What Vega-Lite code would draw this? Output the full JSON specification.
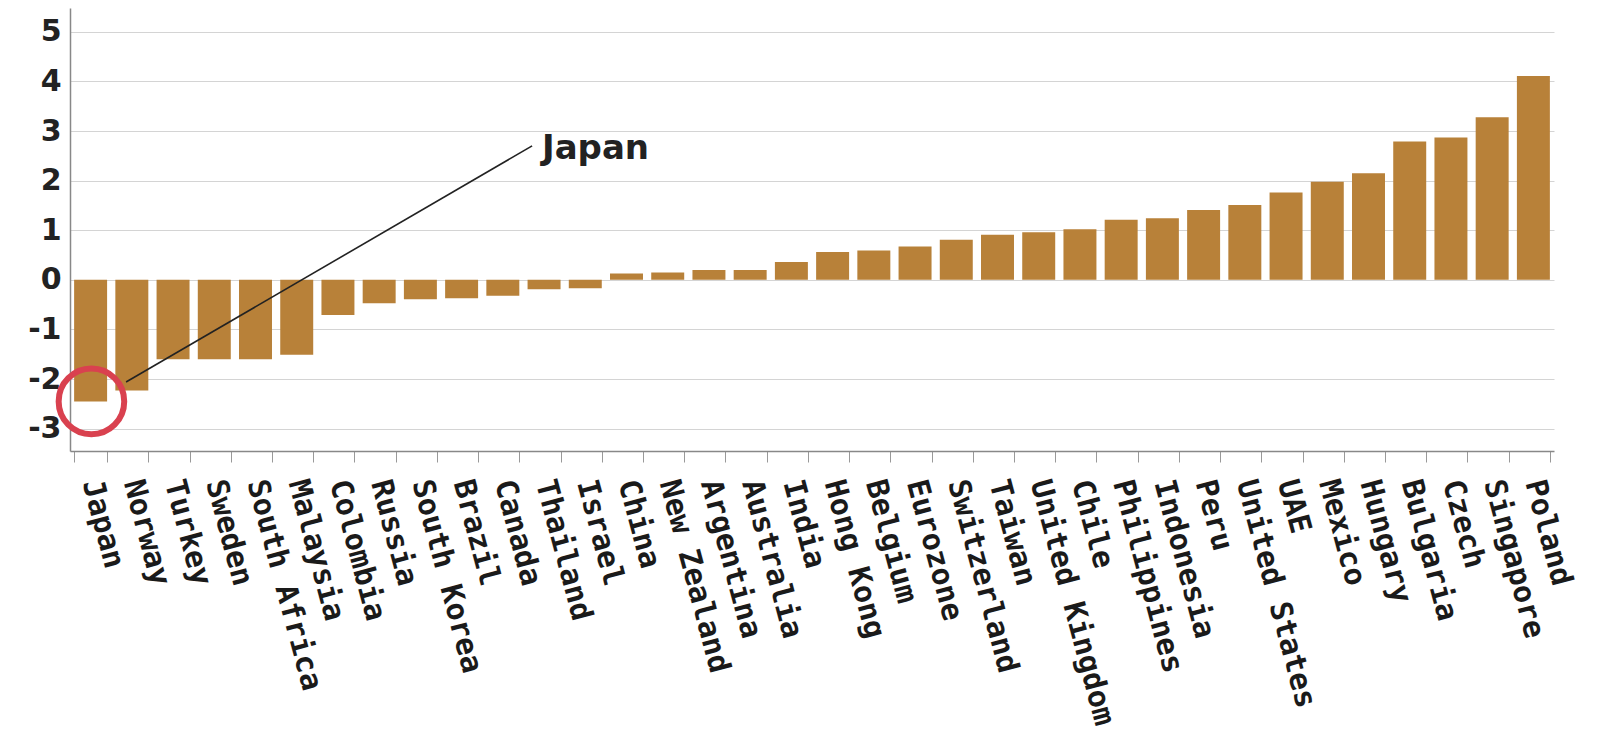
{
  "$schema": "https://vega.github.io/schema/vega-lite/v6.json",
  "autosize": "none",
  "width": 1484,
  "height": 443,
  "padding": {"left": 70, "top": 8, "right": 49, "bottom": 283},
  "background": "white",
  "config": {"view": {"stroke": null}},
  "datasets": {
    "bars": [
      {"country": "Japan", "value": -2.45},
      {"country": "Norway", "value": -2.23},
      {"country": "Turkey", "value": -1.6},
      {"country": "Sweden", "value": -1.6},
      {"country": "South Africa", "value": -1.6},
      {"country": "Malaysia", "value": -1.51},
      {"country": "Colombia", "value": -0.71},
      {"country": "Russia", "value": -0.47},
      {"country": "South Korea", "value": -0.39},
      {"country": "Brazil", "value": -0.37},
      {"country": "Canada", "value": -0.32},
      {"country": "Thailand", "value": -0.19},
      {"country": "Israel", "value": -0.17},
      {"country": "China", "value": 0.13},
      {"country": "New Zealand", "value": 0.15},
      {"country": "Argentina", "value": 0.2},
      {"country": "Australia", "value": 0.2},
      {"country": "India", "value": 0.36},
      {"country": "Hong Kong", "value": 0.56},
      {"country": "Belgium", "value": 0.59},
      {"country": "Eurozone", "value": 0.67},
      {"country": "Switzerland", "value": 0.81},
      {"country": "Taiwan", "value": 0.91},
      {"country": "United Kingdom", "value": 0.96},
      {"country": "Chile", "value": 1.02},
      {"country": "Philippines", "value": 1.21},
      {"country": "Indonesia", "value": 1.24},
      {"country": "Peru", "value": 1.41},
      {"country": "United States", "value": 1.51},
      {"country": "UAE", "value": 1.76},
      {"country": "Mexico", "value": 1.98},
      {"country": "Hungary", "value": 2.15},
      {"country": "Bulgaria", "value": 2.79},
      {"country": "Czech", "value": 2.87},
      {"country": "Singapore", "value": 3.28},
      {"country": "Poland", "value": 4.11}
    ],
    "line": [{"x": 1.36, "y": -2.06, "x2": 11.21, "y2": 2.70}],
    "label": [{"x": 11.45, "y": 2.64, "text": "Japan"}],
    "circle": [{"x": 0.52, "y": -2.45}]
  },
  "resolve": {"scale": {"x": "independent"}},
  "layer": [
    {
      "data": {"name": "bars"},
      "mark": {"type": "bar", "color": "#b88139"},
      "encoding": {
        "x": {
          "field": "country", "type": "nominal", "sort": null,
          "scale": {"paddingInner": 0.2, "paddingOuter": 0.1},
          "axis": {
            "title": null, "labelAngle": 75, "labelAlign": "left", "labelBaseline": "middle",
            "labelFont": "DejaVu Sans Mono", "labelFontSize": 30, "labelFontWeight": "bold", "labelColor": "#1a1a1a",
            "labelPadding": 18, "labelLimit": 0, "tickBand": "extent", "tickSize": 11, "tickColor": "#999",
            "domainColor": "#888", "domainWidth": 1.5, "grid": false, "labelOverlap": false
          }
        },
        "y": {
          "field": "value", "type": "quantitative",
          "scale": {"domain": [-3.45, 5.48], "nice": false, "zero": false},
          "axis": {
            "title": null, "values": [-3, -2, -1, 0, 1, 2, 3, 4, 5],
            "labelExpr": "toString(datum.value)",
            "labelFont": "DejaVu Sans", "labelFontWeight": "bold", "labelFontSize": 30,
            "labelColor": "#222", "labelPadding": 9, "ticks": false,
            "domainColor": "#888", "domainWidth": 1.5,
            "grid": true, "gridColor": "#d4d4d4", "gridWidth": 1
          }
        }
      }
    },
    {
      "data": {"name": "line"},
      "mark": {"type": "rule", "color": "#222", "strokeWidth": 1.6},
      "encoding": {
        "x": {"field": "x", "type": "quantitative", "scale": {"domain": [0, 36], "nice": false, "zero": false}, "axis": null},
        "x2": {"field": "x2"},
        "y": {"field": "y", "type": "quantitative", "scale": {"domain": [-3.45, 5.48], "nice": false, "zero": false}},
        "y2": {"field": "y2"}
      }
    },
    {
      "data": {"name": "label"},
      "mark": {"type": "text", "align": "left", "baseline": "middle", "font": "DejaVu Sans", "fontSize": 34, "fontWeight": "bold", "color": "#222"},
      "encoding": {
        "x": {"field": "x", "type": "quantitative", "scale": {"domain": [0, 36], "nice": false, "zero": false}, "axis": null},
        "y": {"field": "y", "type": "quantitative", "scale": {"domain": [-3.45, 5.48], "nice": false, "zero": false}},
        "text": {"field": "text"}
      }
    },
    {
      "data": {"name": "circle"},
      "mark": {"type": "point", "shape": "circle", "filled": false, "stroke": "#d9414f", "strokeWidth": 6, "size": 4300, "opacity": 1},
      "encoding": {
        "x": {"field": "x", "type": "quantitative", "scale": {"domain": [0, 36], "nice": false, "zero": false}, "axis": null},
        "y": {"field": "y", "type": "quantitative", "scale": {"domain": [-3.45, 5.48], "nice": false, "zero": false}}
      }
    }
  ]
}
